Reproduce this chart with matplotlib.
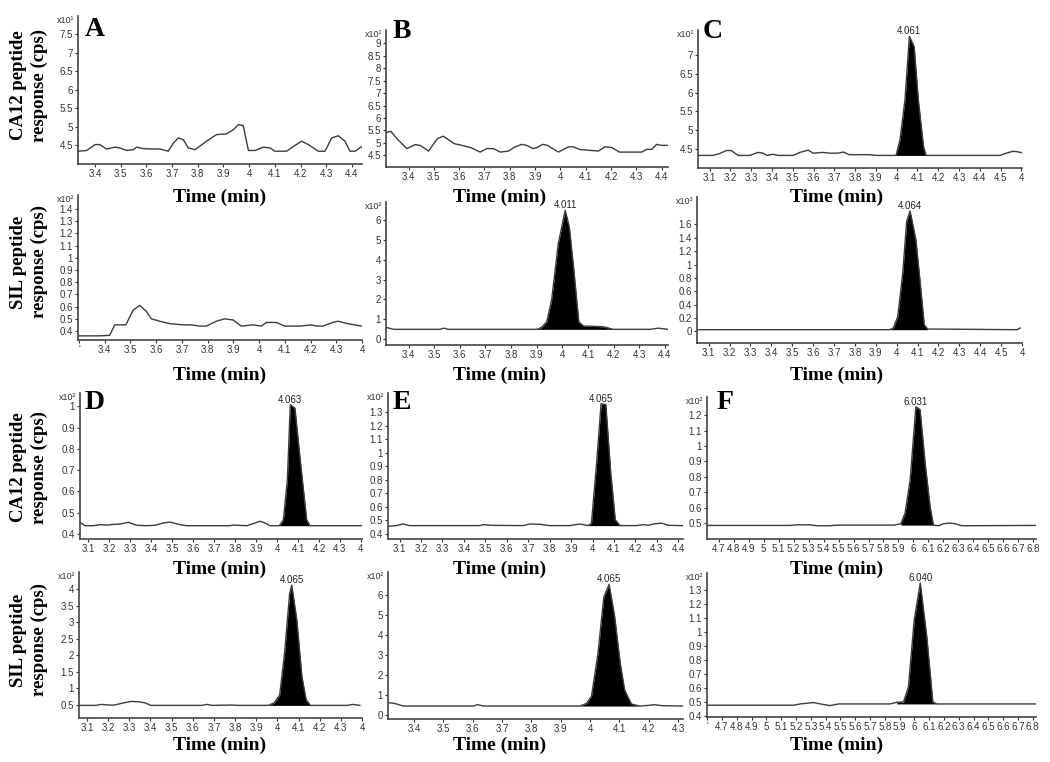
import numpy as np
import matplotlib.pyplot as plt

# ---- data (time in min, response in scaled cps) ----
A_CA12_TIME = [3.335, 3.368, 3.400, 3.419, 3.445, 3.478, 3.497, 3.523, 3.549, 3.562, 3.588, 3.627, 3.653, 3.685,
               3.705, 3.724, 3.744, 3.763, 3.789, 3.834, 3.873, 3.912, 3.938, 3.958, 3.977, 3.997, 4.023, 4.055,
               4.081, 4.100, 4.146, 4.172, 4.204, 4.230, 4.269, 4.295, 4.321, 4.347, 4.373, 4.392, 4.412, 4.439]
A_CA12_RESP = [4.34, 4.36, 4.52, 4.52, 4.40, 4.45, 4.43, 4.36, 4.38, 4.45, 4.41, 4.40, 4.40, 4.34,
               4.56, 4.70, 4.65, 4.43, 4.38, 4.61, 4.79, 4.81, 4.92, 5.06, 5.03, 4.36, 4.36, 4.45,
               4.43, 4.34, 4.34, 4.47, 4.61, 4.52, 4.34, 4.34, 4.70, 4.76, 4.61, 4.34, 4.34, 4.47]

B_CA12_TIME = [3.311, 3.330, 3.354, 3.393, 3.426, 3.446, 3.479, 3.514, 3.538, 3.580, 3.611, 3.646, 3.683, 3.709,
               3.736, 3.762, 3.795, 3.821, 3.847, 3.867, 3.891, 3.907, 3.930, 3.949, 3.992, 4.032, 4.051, 4.078,
               4.117, 4.150, 4.176, 4.203, 4.233, 4.275, 4.321, 4.341, 4.361, 4.380, 4.400, 4.425]
B_CA12_RESP = [5.41, 5.47, 5.17, 4.77, 4.93, 4.90, 4.67, 5.17, 5.27, 4.97, 4.90, 4.81, 4.63, 4.77,
               4.77, 4.63, 4.67, 4.84, 4.94, 4.90, 4.77, 4.81, 4.94, 4.90, 4.63, 4.84, 4.84, 4.73,
               4.70, 4.67, 4.84, 4.81, 4.63, 4.63, 4.63, 4.74, 4.74, 4.94, 4.90, 4.90]

C_CA12_TIME = [3.044, 3.116, 3.148, 3.180, 3.204, 3.237, 3.293, 3.333, 3.357, 3.376, 3.405, 3.429, 3.502, 3.534,
               3.574, 3.598, 3.646, 3.679, 3.719, 3.743, 3.772, 3.871, 3.904, 3.997, 4.016, 4.040, 4.061, 4.084,
               4.104, 4.129, 4.141, 4.498, 4.522, 4.559, 4.579, 4.603]
C_CA12_RESP = [4.33, 4.33, 4.38, 4.46, 4.46, 4.33, 4.33, 4.41, 4.39, 4.33, 4.36, 4.33, 4.33, 4.41,
               4.47, 4.39, 4.41, 4.39, 4.39, 4.42, 4.35, 4.35, 4.33, 4.33, 4.75, 5.81, 7.49, 7.22,
               5.81, 4.57, 4.33, 4.33, 4.38, 4.44, 4.43, 4.40]

A_SIL_TIME = [3.296, 3.381, 3.419, 3.439, 3.482, 3.510, 3.536, 3.562, 3.581, 3.614, 3.633, 3.653, 3.704, 3.737,
              3.769, 3.795, 3.834, 3.866, 3.899, 3.931, 3.976, 4.009, 4.028, 4.067, 4.099, 4.158, 4.203, 4.222,
              4.248, 4.287, 4.306, 4.345, 4.398]
A_SIL_RESP = [0.36, 0.36, 0.364, 0.45, 0.45, 0.57, 0.61, 0.56, 0.50, 0.48, 0.47, 0.46, 0.45, 0.45,
              0.44, 0.44, 0.48, 0.50, 0.49, 0.44, 0.45, 0.44, 0.47, 0.47, 0.44, 0.44, 0.45, 0.44,
              0.44, 0.47, 0.48, 0.46, 0.44]

B_SIL_TIME = [3.312, 3.342, 3.523, 3.536, 3.556, 3.900, 3.919, 3.939, 3.958, 3.984, 4.011, 4.027, 4.046, 4.064,
              4.082, 4.121, 4.160, 4.199, 4.342, 4.374, 4.412]
B_SIL_RESP = [0.59, 0.49, 0.49, 0.55, 0.49, 0.49, 0.59, 0.87, 1.97, 4.82, 6.50, 5.66, 3.31, 0.87,
              0.66, 0.64, 0.62, 0.49, 0.49, 0.55, 0.49]

C_SIL_TIME = [3.044, 3.965, 3.984, 4.005, 4.029, 4.048, 4.064, 4.092, 4.116, 4.132, 4.148, 4.576, 4.592]
C_SIL_RESP = [0.025, 0.025, 0.05, 0.22, 0.87, 1.65, 1.80, 1.37, 0.62, 0.10, 0.035, 0.025, 0.05]

D_CA12_TIME = [3.060, 3.084, 3.124, 3.156, 3.187, 3.219, 3.251, 3.291, 3.330, 3.378, 3.418, 3.458, 3.489, 3.537,
               3.569, 3.775, 3.791, 3.855, 3.887, 3.918, 3.942, 3.966, 4.011, 4.030, 4.049, 4.063, 4.085, 4.112,
               4.141, 4.157, 4.405]
D_CA12_RESP = [0.455, 0.439, 0.439, 0.444, 0.442, 0.445, 0.447, 0.455, 0.441, 0.439, 0.441, 0.452, 0.456, 0.444,
               0.439, 0.439, 0.442, 0.439, 0.449, 0.460, 0.452, 0.439, 0.439, 0.467, 0.655, 1.008, 0.992, 0.733,
               0.467, 0.439, 0.439]

E_CA12_TIME = [3.046, 3.084, 3.116, 3.147, 3.474, 3.489, 3.536, 3.676, 3.707, 3.754, 3.801, 3.894, 3.941, 3.980,
               3.995, 4.019, 4.040, 4.062, 4.085, 4.106, 4.128, 4.205, 4.237, 4.260, 4.283, 4.322, 4.353, 4.422]
E_CA12_RESP = [0.457, 0.462, 0.474, 0.462, 0.462, 0.469, 0.464, 0.462, 0.474, 0.472, 0.462, 0.462, 0.474, 0.462,
               0.481, 0.925, 1.364, 1.357, 0.851, 0.506, 0.462, 0.462, 0.469, 0.464, 0.474, 0.481, 0.464, 0.462]

F_CA12_TIME = [4.622, 5.178, 5.222, 5.311, 5.356, 5.444, 5.489, 5.867, 5.916, 5.944, 5.978, 6.016, 6.044, 6.078,
               6.111, 6.133, 6.167, 6.200, 6.244, 6.278, 6.322, 6.818]
F_CA12_RESP = [0.485, 0.485, 0.489, 0.489, 0.483, 0.483, 0.487, 0.487, 0.496, 0.565, 0.780, 1.254, 1.237, 0.888,
               0.608, 0.487, 0.483, 0.496, 0.500, 0.496, 0.483, 0.485]

D_SIL_TIME = [3.063, 3.144, 3.167, 3.206, 3.230, 3.269, 3.308, 3.347, 3.378, 3.402, 3.644, 3.667, 3.691, 3.784,
              3.816, 3.956, 3.984, 4.011, 4.034, 4.058, 4.068, 4.092, 4.116, 4.136, 4.156, 4.331, 4.355, 4.390]
D_SIL_RESP = [0.48, 0.48, 0.51, 0.49, 0.49, 0.55, 0.60, 0.59, 0.55, 0.48, 0.48, 0.51, 0.48, 0.49,
              0.48, 0.48, 0.55, 0.80, 2.06, 3.87, 4.12, 3.06, 1.35, 0.65, 0.48, 0.48, 0.51, 0.48]

E_SIL_TIME = [3.311, 3.334, 3.363, 3.408, 3.601, 3.618, 3.635, 3.965, 3.988, 4.005, 4.027, 4.047, 4.065, 4.084,
              4.103, 4.118, 4.141, 4.169, 4.198, 4.220, 4.243, 4.317]
E_SIL_RESP = [0.62, 0.58, 0.45, 0.45, 0.45, 0.52, 0.45, 0.45, 0.58, 0.95, 3.08, 5.92, 6.55, 4.92,
              2.58, 1.25, 0.55, 0.45, 0.48, 0.52, 0.47, 0.45]

F_SIL_TIME = [4.599, 5.184, 5.229, 5.319, 5.375, 5.431, 5.488, 5.837, 5.882, 5.927, 5.960, 5.999, 6.040, 6.084,
              6.125, 6.152, 6.822]
F_SIL_RESP = [0.479, 0.479, 0.488, 0.498, 0.486, 0.476, 0.488, 0.488, 0.500, 0.502, 0.610, 1.086, 1.348, 0.967,
              0.502, 0.488, 0.488]

# peak apex labels, integrated (black) window and its baseline
PEAK_LABELS = ['', '', '4.061', '', '4.011', '4.064', '4.063', '4.065', '6.031', '4.065', '4.065', '6.040']
FILL_START = [None, None, 3.997, None, 3.900, 3.965, 4.011, 3.980, 5.916, 3.956, 3.965, 5.882]
FILL_END = [None, None, 4.141, None, 4.199, 4.148, 4.157, 4.128, 6.133, 4.156, 4.169, 6.152]
FILL_BASE = [None, None, 4.33, None, 0.49, 0.025, 0.439, 0.462, 0.487, 0.48, 0.45, 0.488]
EXPONENTS = ['¹', '¹', '¹', '²', '²', '³', '²', '²', '²', '²', '²', '²']
LETTERS = ['A', 'B', 'C', '', '', '', 'D', 'E', 'F', '', '', '']

SERIES = [(A_CA12_TIME, A_CA12_RESP), (B_CA12_TIME, B_CA12_RESP), (C_CA12_TIME, C_CA12_RESP),
          (A_SIL_TIME, A_SIL_RESP), (B_SIL_TIME, B_SIL_RESP), (C_SIL_TIME, C_SIL_RESP),
          (D_CA12_TIME, D_CA12_RESP), (E_CA12_TIME, E_CA12_RESP), (F_CA12_TIME, F_CA12_RESP),
          (D_SIL_TIME, D_SIL_RESP), (E_SIL_TIME, E_SIL_RESP), (F_SIL_TIME, F_SIL_RESP)]

# ---- layout (pixel boxes: left, right, top, bottom) and axis ranges ----
W, H = 1050, 762
BOXES = [(78, 362, 16, 164), (386, 668, 30, 167), (698, 1022, 30, 168),
         (78, 362, 195, 340), (386, 668, 202, 345), (697, 1022, 197, 343),
         (80, 362, 393, 539), (388, 683, 393, 539), (707, 1036, 397, 539),
         (79, 362, 572, 718), (388, 683, 572, 719), (707, 1036, 573, 717)]
LETTER_POS = [(85, 17), (393, 19), (703, 19), None, None, None,
              (85, 390), (393, 390), (717, 390), None, None, None]
XLIMS = [(3.334, 4.439), (3.311, 4.425), (3.044, 4.603),
         (3.296, 4.398), (3.312, 4.412), (3.044, 4.592),
         (3.060, 4.405), (3.046, 4.422), (4.622, 6.818),
         (3.0625, 4.40), (3.311, 4.317), (4.599, 6.822)]
YLIMS = [(3.994, 8.0), (4.03, 9.54), (3.996, 7.66),
         (0.326, 1.515), (-0.30, 6.92), (-0.174, 2.01),
         (0.3765, 1.063), (0.363, 1.443), (0.397, 1.318),
         (0.098, 4.52), (-0.2, 7.17), (0.395, 1.42)]
XTICK_RANGE = [(3.4, 4.4), (3.4, 4.4), (3.1, 4.6),
               (3.3, 4.4), (3.4, 4.4), (3.1, 4.6),
               (3.1, 4.4), (3.1, 4.4), (4.7, 6.8),
               (3.1, 4.4), (3.4, 4.3), (4.6, 6.8)]
YTICK_RANGE = [(4.5, 7.5, 0.5), (4.5, 9.0, 0.5), (4.5, 7.0, 0.5),
               (0.4, 1.4, 0.1), (0, 6, 1), (0, 1.6, 0.2),
               (0.4, 1.0, 0.1), (0.4, 1.3, 0.1), (0.5, 1.2, 0.1),
               (0.5, 4.0, 0.5), (0, 6, 1), (0.4, 1.3, 0.1)]
# tick labels the acquisition software clipped at the axis ends
CLIPPED = {2: {4.6: '4'}, 3: {3.3: "'", 4.4: '4'}, 5: {4.6: '4'}, 6: {4.4: '4'},
           9: {4.4: '4'}, 11: {4.6: "'"}}

LINE = '#3c3c3c'
SANS = 'Liberation Sans'
SERIF = 'Liberation Serif'

fig = plt.figure(figsize=(10.5, 7.62), dpi=100)

for i, (t, r) in enumerate(SERIES):
    l, rr, top, bot = BOXES[i]
    ax = fig.add_axes([l / W, 1 - bot / H, (rr - l) / W, (bot - top) / H])
    t = np.array(t)
    r = np.array(r)
    ax.plot(t, r, color=LINE, lw=1.0)
    if FILL_START[i] is not None:
        m = (t >= FILL_START[i]) & (t <= FILL_END[i])
        ax.fill_between(t[m], FILL_BASE[i], r[m], color='black', lw=0)
        k = np.argmax(r)
        ax.text(t[k], r[k], PEAK_LABELS[i], fontsize=7, family=SANS, ha='center', va='bottom',
                color='#222222')
    ax.set_xlim(*XLIMS[i])
    ax.set_ylim(*YLIMS[i])

    x0, x1 = XTICK_RANGE[i]
    xt = np.round(np.arange(x0, x1 + 0.001, 0.1), 2)
    xl = [CLIPPED.get(i, {}).get(v, f'{v:g}') for v in xt]
    ax.set_xticks(xt)
    ax.set_xticklabels(xl)
    y0, y1, ys = YTICK_RANGE[i]
    yt = np.round(np.arange(y0, y1 + ys / 100, ys), 2)
    ax.set_yticks(yt)
    ax.set_yticklabels([f'{v:g}' for v in yt])

    for s in ['top', 'right']:
        ax.spines[s].set_visible(False)
    for s in ['left', 'bottom']:
        ax.spines[s].set_color('#444444')
        ax.spines[s].set_linewidth(1.2)
    ax.tick_params(axis='both', direction='out', length=2.5, width=0.8, colors='#333333',
                   labelsize=7, pad=1)
    for lab in ax.get_xticklabels() + ax.get_yticklabels():
        lab.set_family(SANS)
    ax.patch.set_alpha(0)

    ax.text(-0.012, 1.0, 'x10' + EXPONENTS[i], transform=ax.transAxes, fontsize=6.5, family=SANS,
            ha='right', va='top', color='#333333')
    if LETTERS[i]:
        lx, ly = LETTER_POS[i]
        fig.text(lx / W, 1 - ly / H, LETTERS[i], fontsize=20, family=SERIF, weight='bold',
                 ha='left', va='top')

# shared axis titles
for yc in [197, 375, 569, 745]:
    for xc in [220, 500, 837]:
        fig.text(xc / W, 1 - yc / H, 'Time (min)', fontsize=14, family=SERIF, weight='bold',
                 ha='center', va='center')

ROW_TITLES = ['CA12 peptide\nresponse (cps)', 'SIL peptide\nresponse (cps)',
              'CA12 peptide\nresponse (cps)', 'SIL peptide\nresponse (cps)']
for title, yc in zip(ROW_TITLES, [85, 262, 467, 640]):
    fig.text(29 / W, 1 - yc / H, title, fontsize=13.5, family=SERIF, weight='bold', rotation=90,
             ha='center', va='center', linespacing=1.25, multialignment='center')

fig.savefig('out.png', dpi=100)
